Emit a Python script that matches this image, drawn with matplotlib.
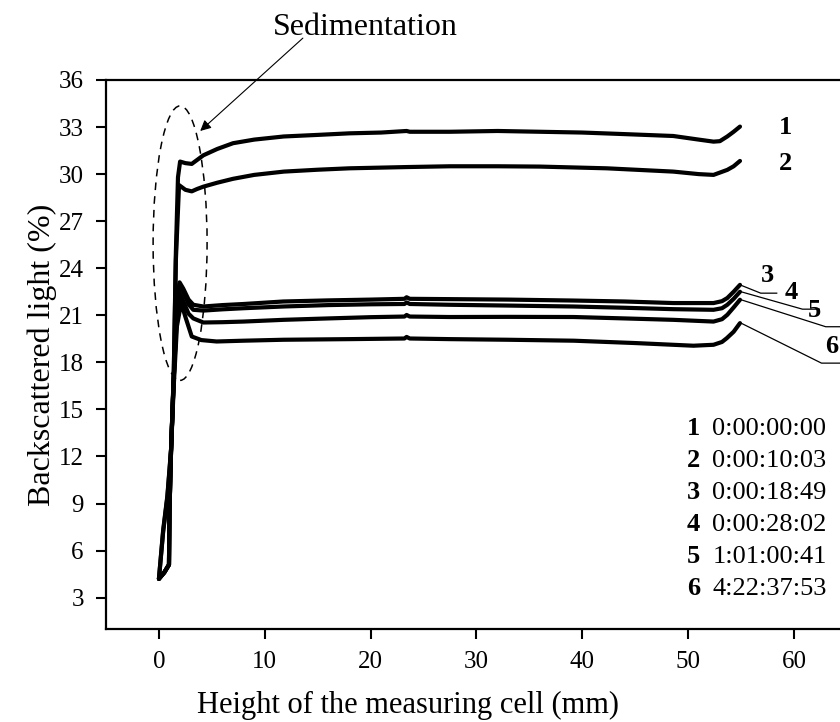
import numpy as np
import matplotlib.pyplot as plt
from matplotlib.patches import Ellipse

plt.rcParams['font.family'] = ['Liberation Serif', 'DejaVu Serif']

# profiles: height in the cell (mm) and backscattered light (%)
x1 = [0, 0.4, 0.8, 1.15, 1.4, 1.6, 1.8, 2.0, 2.5, 3.1, 3.6, 4.2, 5.5, 7.0, 9.0, 11.8, 15, 18, 21,
      23.4, 23.7, 27.5, 32, 36, 40, 44, 48.6, 51, 52.4, 53.0, 53.7, 54.3, 54.9]
y1 = [4.2, 7.3, 9.5, 12.5, 17.3, 25.0, 29.8, 30.8, 30.7, 30.65, 30.9, 31.2, 31.6, 31.97, 32.2, 32.4, 32.5, 32.6, 32.65,
      32.75, 32.7, 32.7, 32.75, 32.7, 32.65, 32.55, 32.43, 32.2, 32.07, 32.1, 32.4, 32.7, 33.03]

x2 = [0, 0.4, 0.8, 1.15, 1.4, 1.6, 1.9, 2.5, 3.1, 3.6, 4.2, 5.5, 7.0, 9.0, 11.8, 15, 18, 23.4,
      27.5, 32, 36, 42.3, 48.6, 51, 52.4, 53.7, 54.3, 54.9]
y2 = [4.2, 7.2, 9.4, 12.4, 17.2, 24.5, 29.3, 29.0, 28.9, 29.05, 29.2, 29.45, 29.7, 29.95, 30.16, 30.28, 30.37, 30.45,
      30.5, 30.5, 30.48, 30.37, 30.16, 30.0, 29.95, 30.27, 30.5, 30.84]

x3 = [0, 0.5, 0.95, 1.0, 1.15, 1.4, 1.7, 1.95, 2.3, 2.8, 3.25, 4.2, 6, 8, 11.75, 16, 20, 23.2, 23.4, 23.7,
      27.5, 33, 39.2, 44, 48.6, 52.4, 53.2, 53.7, 54.3, 54.9]
y3 = [4.2, 4.6, 5.1, 8.6, 12.5, 17.0, 21.5, 23.1, 22.7, 22.0, 21.67, 21.56, 21.65, 21.72, 21.88, 21.95, 22.0, 22.05, 22.15, 22.05,
      22.03, 22.0, 21.94, 21.88, 21.78, 21.78, 21.9, 22.1, 22.5, 22.94]

x4 = [0, 0.5, 0.95, 1.0, 1.15, 1.4, 1.7, 1.95, 2.3, 2.8, 3.25, 4.2, 6, 8, 11.75, 16, 20, 23.2, 23.4, 23.7,
      27.5, 33, 39.2, 44, 48.6, 52.4, 53.2, 53.7, 54.3, 54.9]
y4 = [4.2, 4.6, 5.1, 8.6, 12.5, 17.0, 21.4, 23.0, 22.5, 21.7, 21.35, 21.3, 21.38, 21.45, 21.56, 21.65, 21.7, 21.72, 21.82, 21.72,
      21.67, 21.62, 21.56, 21.48, 21.39, 21.35, 21.45, 21.67, 22.05, 22.5]

x5 = [0, 0.5, 0.95, 1.0, 1.15, 1.4, 1.7, 2.0, 2.3, 2.8, 3.25, 4.2, 6, 8, 11.75, 16, 20, 23.2, 23.4, 23.7,
      27.5, 33, 39.2, 44, 48.6, 52.4, 53.2, 53.7, 54.3, 54.9]
y5 = [4.2, 4.6, 5.1, 8.6, 12.5, 17.0, 21.0, 22.4, 21.9, 21.1, 20.8, 20.54, 20.56, 20.6, 20.71, 20.8, 20.88, 20.92, 21.02, 20.92,
      20.89, 20.9, 20.89, 20.8, 20.71, 20.6, 20.75, 21.03, 21.5, 21.99]

x6 = [0, 0.5, 0.95, 1.0, 1.15, 1.4, 1.7, 2.1, 2.5, 3.1, 4.0, 5.45, 8, 11.75, 18, 23.2, 23.4, 23.7,
      27.5, 33, 39.2, 45, 50.5, 52.4, 53.2, 53.65, 54.3, 54.9]
y6 = [4.2, 4.6, 5.1, 8.6, 12.5, 16.5, 20.3, 21.8, 20.9, 19.65, 19.42, 19.33, 19.38, 19.44, 19.48, 19.52, 19.62, 19.52,
      19.48, 19.44, 19.38, 19.23, 19.06, 19.12, 19.3, 19.54, 19.95, 20.5]

curves_x = [x1, x2, x3, x4, x5, x6]
curves_y = [y1, y2, y3, y4, y5, y6]

labels = ['1', '2', '3', '4', '5', '6']
times = ['0:00:00:00', '0:00:10:03', '0:00:18:49', '0:00:28:02', '1:01:00:41', '4:22:37:53']

fig = plt.figure(figsize=(8.4, 7.22), dpi=100)
ax = fig.add_axes([0.1262, 0.1288, 0.882, 0.7604])

for xs, ys in zip(curves_x, curves_y):
    ax.plot(xs, ys, color='black', lw=3, solid_capstyle='round', solid_joinstyle='round')

ax.set_xlim(-5, 65)
ax.set_ylim(1, 36)
ax.set_xticks(np.arange(0, 61, 10))
ax.set_yticks(np.arange(3, 37, 3))
ax.tick_params(direction='out', length=7, width=1.5, labelsize=18)
ax.tick_params(axis='x', pad=9)
ax.tick_params(axis='y', pad=9)
for s in ax.spines.values():
    s.set_linewidth(1.6)
ax.spines['right'].set_visible(False)

ax.set_xlabel('Height of the measuring cell (mm)', fontsize=22)
ax.xaxis.set_label_coords(0.4076, -0.113)
ax.set_ylabel('Backscattered light (%)', fontsize=23, labelpad=1)

# labels 1 and 2 next to the curve ends
ax.text(59.2, 33.0, '1', fontsize=19, fontweight='bold', ha='center', va='center')
ax.text(59.2, 30.7, '2', fontsize=19, fontweight='bold', ha='center', va='center')

# leader lines for curves 3 to 6
leader_pts = [
    [(54.9, 22.94), (56.86, 22.41), (58.37, 22.41)],
    [(55.0, 22.5), (60.8, 21.39), (62.4, 21.39)],
    [(55.0, 21.99), (63.0, 20.27), (64.7, 20.27)],
    [(55.0, 20.5), (62.6, 17.95), (64.4, 17.95)],
]
leader_text = [(57.5, 23.55), (59.7, 22.45), (61.9, 21.3), (63.6, 19.0)]
for pts, (tx, ty), lab in zip(leader_pts, leader_text, labels[2:]):
    px = [p[0] for p in pts]
    py = [p[1] for p in pts]
    ax.plot(px, py, color='black', lw=0.9, clip_on=False)
    ax.text(tx, ty, lab, fontsize=19, fontweight='bold', ha='center', va='center', clip_on=False)

# time table in the lower right
for i, (lab, t) in enumerate(zip(labels, times)):
    yy = 13.77 - i * 2.04
    ax.text(50.5, yy, lab, fontsize=19, fontweight='bold', ha='center', va='center')
    ax.text(52.3, yy, t, fontsize=19, ha='left', va='center')

# dashed ellipse around the sedimentation zone
ax.add_patch(Ellipse((2.0, 25.6), 5.1, 17.5, fill=False, ls=(0, (5, 4)), lw=1.1, color='black'))
ax.annotate('', xy=(3.9, 32.75), xytext=(13.6, 38.67), annotation_clip=False,
            arrowprops=dict(arrowstyle='-|>', lw=0.8, color='black', mutation_scale=16,
                            shrinkA=0, shrinkB=0))
ax.text(19.5, 39.35, 'Sedimentation', fontsize=23, ha='center', va='center', clip_on=False)

plt.savefig('out.png', dpi=100)
